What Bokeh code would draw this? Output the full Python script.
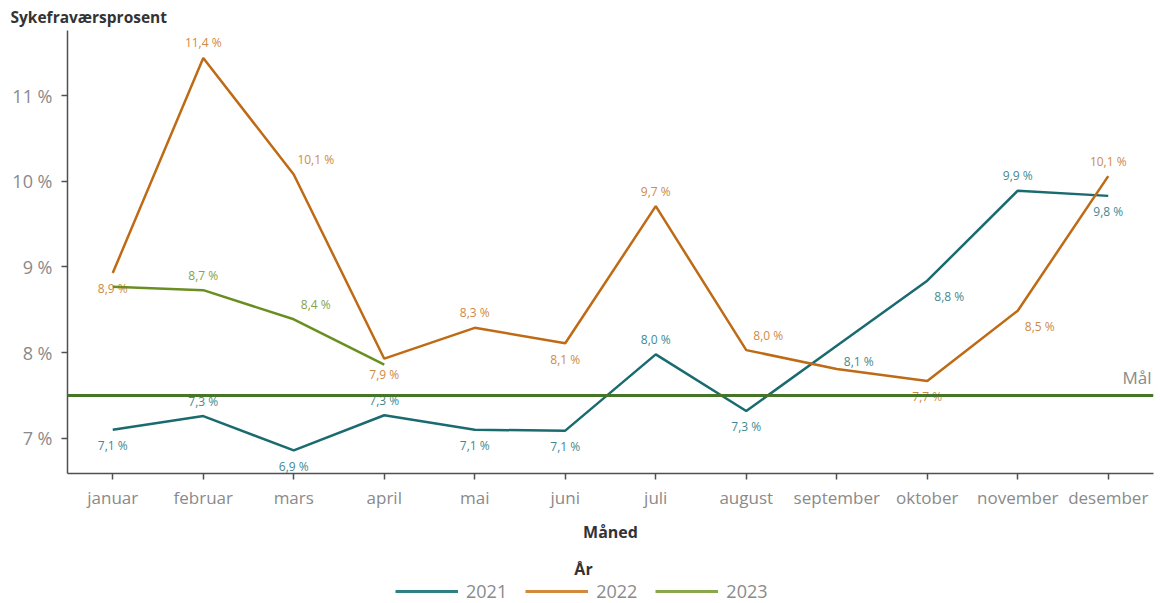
from bokeh.plotting import figure
from bokeh.layouts import column
from bokeh.models import (ColumnDataSource, FactorRange, Range1d, Span, Label,
                          Legend, LegendItem, FixedTicker, CustomJSTickFormatter, Title)
from bokeh.core.properties import value
from bokeh.embed import file_html
from bokeh.resources import INLINE

# ---------------- data ----------------
months = ["januar", "februar", "mars", "april", "mai", "juni", "juli",
          "august", "september", "oktober", "november", "desember"]
years = ["2021", "2022", "2023"]
v2021 = [7.10, 7.26, 6.86, 7.27, 7.10, 7.09, 7.98, 7.32, 8.08, 8.84, 9.89, 9.83]
v2022 = [8.93, 11.44, 10.08, 7.93, 8.29, 8.11, 9.71, 8.03, 7.81, 7.67, 8.49, 10.06]
v2023 = [8.77, 8.73, 8.39, 7.86]
target = 7.5
target_label = "Mål"
y_ticks = [7, 8, 9, 10, 11]

# label placement (style): a=above, b=below, ar/br = shifted right, "" = hidden
place2021 = ["b", "a", "b", "a", "b", "b", "a", "b", "br", "br", "a", "b"]
place2022 = ["b", "a", "ar", "b", "a", "b", "a", "ar", "", "b", "br", "a"]
place2023 = ["", "a", "ar", ""]

line_colors = ["#1a6b70", "#bf6a14", "#6b8e23"]
label_colors = ["#3f8a90", "#cf8a45", "#86a24a"]
legend_colors = ["#2f7f86", "#d4883c", "#8aa64a"]

FONT = "Open Sans"

p = figure(width=1160, height=545, output_backend="svg", toolbar_location=None,
           x_range=FactorRange(*months, range_padding=0),
           y_range=Range1d(6.59, 11.76),
           min_border_left=67, min_border_right=7, min_border_top=30,
           min_border_bottom=72)
p.outline_line_color = None
p.grid.visible = False
p.background_fill_color = "white"
p.border_fill_color = "white"

# y axis title as a left-aligned title above
p.title = Title(text="Sykefraværsprosent", align="left", offset=-57,
                text_font=FONT, text_font_size="15.5px", text_font_style="bold",
                text_color="#333333", standoff=5)

# axes
for ax in (p.xaxis[0], p.yaxis[0]):
    ax.axis_line_color = "#505050"
    ax.axis_line_width = 1.5
    ax.major_tick_line_color = "#505050"
    ax.major_tick_line_width = 1.5
    ax.major_tick_out = 6
    ax.major_tick_in = 0
    ax.minor_tick_line_color = None
    ax.major_label_text_color = "#8a8a8a"
    ax.major_label_text_font = FONT
    ax.major_label_text_font_style = "normal"

p.xaxis.major_label_text_font_size = "17px"
p.xaxis.major_label_standoff = 6
p.xaxis.axis_label = "Måned"
p.xaxis.axis_label_text_font = FONT
p.xaxis.axis_label_text_font_size = "16px"
p.xaxis.axis_label_text_font_style = "bold"
p.xaxis.axis_label_text_color = "#333333"
p.xaxis.axis_label_standoff = 9

p.yaxis.ticker = FixedTicker(ticks=y_ticks)
p.yaxis.formatter = CustomJSTickFormatter(code="return tick.toFixed(0) + ' %';")
p.yaxis.major_label_text_font_size = "18px"
p.yaxis.major_label_standoff = 9

# target line
p.add_layout(Span(location=target, dimension="width", line_color="#46752a",
                  line_width=3))
p.add_layout(Label(x=1084, y=target, x_units="screen", text=target_label,
                   text_align="right", text_baseline="bottom", y_offset=7,
                   text_font=FONT, text_font_size="17px", text_color="#8a8a8a"))

def fmt(v):
    return ("%.1f" % v).replace(".", ",") + " %"

def offsets(place):
    xo, yo, vis = [], [], []
    for pl in place:
        dx = 22 if pl.endswith("r") else 0
        if pl.startswith("a"):
            dy = -15
        elif pl.startswith("b"):
            dy = 16
        else:
            dy = 0
        xo.append(dx)
        yo.append(dy)
        vis.append(pl != "")
    return xo, yo, vis

for yr, vals, place, lc, tc in zip(years, [v2021, v2022, v2023],
                                   [place2021, place2022, place2023],
                                   line_colors, label_colors):
    xs = months[:len(vals)]
    src = ColumnDataSource(dict(x=xs, y=vals))
    p.line("x", "y", source=src, line_color=lc, line_width=2.5)
    xo, yo, vis = offsets(place)
    lx = [x for x, v in zip(xs, vis) if v]
    ly = [y for y, v in zip(vals, vis) if v]
    lt = [fmt(y) for y, v in zip(vals, vis) if v]
    lxo = [o for o, v in zip(xo, vis) if v]
    lyo = [o for o, v in zip(yo, vis) if v]
    lsrc = ColumnDataSource(dict(x=lx, y=ly, t=lt, xo=lxo, yo=lyo))
    p.text("x", "y", text="t", source=lsrc, x_offset="xo", y_offset="yo",
           text_align="center", text_baseline="middle",
           text_font=value(FONT), text_font_size="12px", text_color=tc)

# ---------------- legend strip ----------------
lg = figure(width=1160, height=58, output_backend="svg", toolbar_location=None,
            x_range=Range1d(0, 1), y_range=Range1d(0, 1),
            x_axis_type=None, y_axis_type=None,
            min_border_left=0, min_border_right=0, min_border_top=0,
            min_border_bottom=0)
lg.outline_line_color = None
lg.grid.visible = False
lg.background_fill_color = "white"
lg.border_fill_color = "white"

nan = float("nan")
leg_renderers = [lg.line(x=[nan], y=[nan], line_color=c, line_width=3) for c in legend_colors]
# the strip's frame is aligned with the main frame (left edge at 67 px)
lg.add_layout(Label(x=583 - 67, y=35, x_units="screen", y_units="screen", text="År",
                    text_align="center", text_baseline="middle", text_font=FONT,
                    text_font_size="16px", text_font_style="bold",
                    text_color="#333333"))
legend = Legend(items=[LegendItem(label=y, renderers=[r]) for y, r in zip(years, leg_renderers)],
                orientation="horizontal", location=(395 - 67, 0),
                padding=0, margin=0, spacing=18, glyph_width=63, glyph_height=20,
                label_standoff=8, label_text_font=FONT, label_text_font_size="18px",
                label_text_color="#8a8a8a", border_line_color=None,
                background_fill_alpha=0)
lg.add_layout(legend, "center")

layout = column(p, lg, spacing=0)
open("out.html", "w").write(file_html(layout, INLINE))
